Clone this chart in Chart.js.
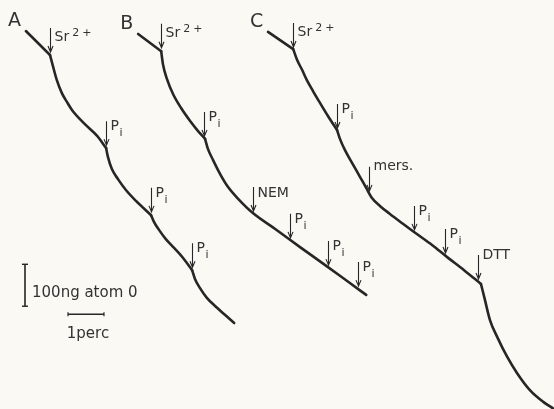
<!DOCTYPE html>
<html>
<head>
<meta charset="utf-8">
<script src="https://cdn.jsdelivr.net/npm/chart.js@4/dist/chart.umd.min.js"></script>
<style>
  html, body { margin: 0; padding: 0; background: #faf9f4; }
  #wrap { width: 554px; height: 409px; }
</style>
</head>
<body>
<div id="wrap"><canvas id="c"></canvas></div>
<script>
// Oxygen uptake traces. Time in perc (min), O2 consumed in ng atom O (plotted downward).
const panelNames = ['A', 'B', 'C'];

const traceA_t = [0.72, 1.39, 1.47, 1.58, 1.72, 1.86, 2.00, 2.36, 2.70, 2.95, 3.00, 3.11, 3.28, 3.50, 3.78, 4.20, 4.28, 4.42, 4.61, 4.84, 5.09, 5.34, 5.42, 5.56, 5.75, 6.01, 6.26, 6.51];
const traceA_o = [74, 131, 157, 191, 222, 243, 262, 296, 324, 353, 374, 403, 427, 453, 479, 513, 529, 548, 570, 591, 615, 644, 665, 687, 710, 732, 751, 770];
const traceA_breaks = [1, 9, 15, 21];

const traceB_t = [3.84, 4.48, 4.53, 4.64, 4.81, 5.03, 5.28, 5.50, 5.70, 5.78, 5.92, 6.12, 6.34, 6.62, 7.03, 7.65, 8.34, 9.04, 9.65, 10.18];
const traceB_o = [81, 122, 153, 188, 224, 257, 288, 312, 331, 355, 381, 415, 446, 474, 508, 546, 589, 632, 670, 703];
const traceB_breaks = [1, 8];

const traceC_t = [7.45, 8.15, 8.26, 8.40, 8.53, 8.70, 8.90, 9.12, 9.37, 9.45, 9.59, 9.79, 10.01, 10.18, 10.34, 10.56, 10.84, 11.18, 11.54, 12.01, 12.43, 12.90, 13.37, 13.48, 13.62, 13.82, 14.10, 14.37, 14.73, 15.10, 15.40];
const traceC_o = [76, 117, 143, 167, 191, 217, 246, 277, 310, 331, 358, 389, 422, 448, 472, 491, 510, 532, 555, 584, 613, 644, 677, 715, 763, 803, 851, 889, 930, 958, 975];
const traceC_breaks = [1, 8, 22];

// Additions (arrow time, arrow tip, reagent)
const addA_t = [1.38, 2.95, 4.20, 5.34];
const addA_o = [124, 346, 505, 637];
const addA_label = ['Sr2+', 'Pi', 'Pi', 'Pi'];

const addB_t = [4.47, 5.67, 7.03, 8.06, 9.12, 9.95];
const addB_o = [114, 324, 503, 567, 632, 682];
const addB_label = ['Sr2+', 'Pi', 'NEM', 'Pi', 'Pi', 'Pi'];

const addC_t = [8.15, 9.37, 10.26, 11.51, 12.37, 13.29];
const addC_o = [112, 305, 455, 548, 603, 665];
const addC_label = ['Sr2+', 'Pi', 'mers.', 'Pi', 'Pi', 'DTT'];

// Calibration bars
const barO2_t = [0.695, 0.695];
const barO2_o = [630, 730];
const barTime_t = [1.89, 2.89];
const barTime_o = [749, 749];
const barO2_text = '100ng atom 0';
const barTime_text = '1perc';

const INK = '#262626';
const FONT = '"DejaVu Sans", "Liberation Sans", sans-serif';

function toPoints(ts, os) { return ts.map((t, i) => ({ x: t, y: os[i] })); }

// each trace is split at its kinks so the smoothing never rounds them off
function segments(ts, os, breaks) {
  const cuts = [0, ...breaks, ts.length - 1];
  const out = [];
  for (let k = 0; k < cuts.length - 1; k++) {
    out.push({
      data: toPoints(ts.slice(cuts[k], cuts[k + 1] + 1), os.slice(cuts[k], cuts[k + 1] + 1)),
      showLine: true, borderColor: INK, borderWidth: 2.6, pointRadius: 0,
      cubicInterpolationMode: 'monotone', borderCapStyle: 'round', borderJoinStyle: 'round'
    });
  }
  return out;
}

const traces = [
  { t: traceA_t, o: traceA_o, br: traceA_breaks, at: addA_t, ao: addA_o, al: addA_label },
  { t: traceB_t, o: traceB_o, br: traceB_breaks, at: addB_t, ao: addB_o, al: addB_label },
  { t: traceC_t, o: traceC_o, br: traceC_breaks, at: addC_t, ao: addC_o, al: addC_label }
];

const datasets = [];
traces.forEach(tr => datasets.push(...segments(tr.t, tr.o, tr.br)));
datasets.push({
  data: toPoints(barO2_t, barO2_o), showLine: true, borderColor: INK, borderWidth: 1.6,
  pointStyle: 'line', pointRadius: 3, pointBorderWidth: 1.4, pointBorderColor: INK, rotation: 0
});
datasets.push({
  data: toPoints(barTime_t, barTime_o), showLine: true, borderColor: INK, borderWidth: 1.4,
  pointStyle: 'line', pointRadius: 2, pointBorderWidth: 1.2, pointBorderColor: INK, rotation: 90
});

// label baseline offsets above the arrow tip, per reagent
const labelLift = { 'Sr2+': 11, 'Pi': 15, 'NEM': 14, 'mers.': 21, 'DTT': 20 };

function drawLabel(ctx, text, x, b) {
  ctx.fillStyle = '#333';
  ctx.textAlign = 'left';
  ctx.textBaseline = 'alphabetic';
  if (text === 'Sr2+') {
    ctx.font = '14px ' + FONT;
    ctx.fillText('Sr', x, b);
    const w = ctx.measureText('Sr').width;
    ctx.font = '11px ' + FONT;
    ctx.fillText('2', x + w + 3, b - 5);
    const w2 = ctx.measureText('2').width;
    ctx.fillText('+', x + w + 3 + w2 + 3, b - 5);
  } else if (text === 'Pi') {
    ctx.font = '14px ' + FONT;
    ctx.fillText('P', x, b);
    const w = ctx.measureText('P').width;
    ctx.font = '11px ' + FONT;
    ctx.fillText('i', x + w + 0.5, b + 6);
  } else {
    ctx.font = '14px ' + FONT;
    ctx.fillText(text, x, b);
  }
}

const marks = {
  id: 'marks',
  beforeDraw(chart) {
    const { ctx, width, height } = chart;
    ctx.save();
    ctx.fillStyle = '#faf9f4';
    ctx.fillRect(0, 0, width, height);
    ctx.restore();
  },
  afterDatasetsDraw(chart) {
    const { ctx, scales: { x, y } } = chart;
    ctx.save();
    traces.forEach((tr, k) => {
      // panel letter next to the start of each trace
      const sx = x.getPixelForValue(tr.t[0]);
      const sy = y.getPixelForValue(tr.o[0]);
      ctx.fillStyle = '#333';
      ctx.font = '19px ' + FONT;
      ctx.textAlign = 'left';
      ctx.textBaseline = 'alphabetic';
      ctx.fillText(panelNames[k], sx - 18, sy - 5);
      // additions
      tr.at.forEach((t, i) => {
        const px = Math.round(x.getPixelForValue(t)) + 0.5;
        const py = y.getPixelForValue(tr.ao[i]);
        ctx.strokeStyle = INK;
        ctx.lineWidth = 1.1;
        ctx.beginPath();
        ctx.moveTo(px, py - 24);
        ctx.lineTo(px, py);
        ctx.moveTo(px - 2.5, py - 6);
        ctx.lineTo(px, py);
        ctx.lineTo(px + 2.5, py - 6);
        ctx.stroke();
        drawLabel(ctx, tr.al[i], px + 4, py - labelLift[tr.al[i]]);
      });
    });
    // calibration texts
    ctx.fillStyle = '#333';
    ctx.font = '15px ' + FONT;
    ctx.textAlign = 'left';
    const vx = x.getPixelForValue(barO2_t[0]);
    const vy = y.getPixelForValue((barO2_o[0] + barO2_o[1]) / 2);
    ctx.fillText(barO2_text, vx + 7, vy + 12);
    const hx = x.getPixelForValue((barTime_t[0] + barTime_t[1]) / 2);
    const hy = y.getPixelForValue(barTime_o[0]);
    ctx.textAlign = 'center';
    ctx.fillText(barTime_text, hx + 2, hy + 24);
    ctx.restore();
  }
};

new Chart(document.getElementById('c'), {
  type: 'scatter',
  data: { datasets },
  options: {
    responsive: true,
    maintainAspectRatio: false,
    animation: false,
    layout: { padding: 0, autoPadding: false },
    plugins: { legend: { display: false }, tooltip: { enabled: false } },
    scales: {
      x: { type: 'linear', display: false, min: 0, max: 15.4 },
      y: { type: 'linear', display: false, min: 0, max: 975, reverse: true }
    }
  },
  plugins: [marks]
});
</script>
</body>
</html>
